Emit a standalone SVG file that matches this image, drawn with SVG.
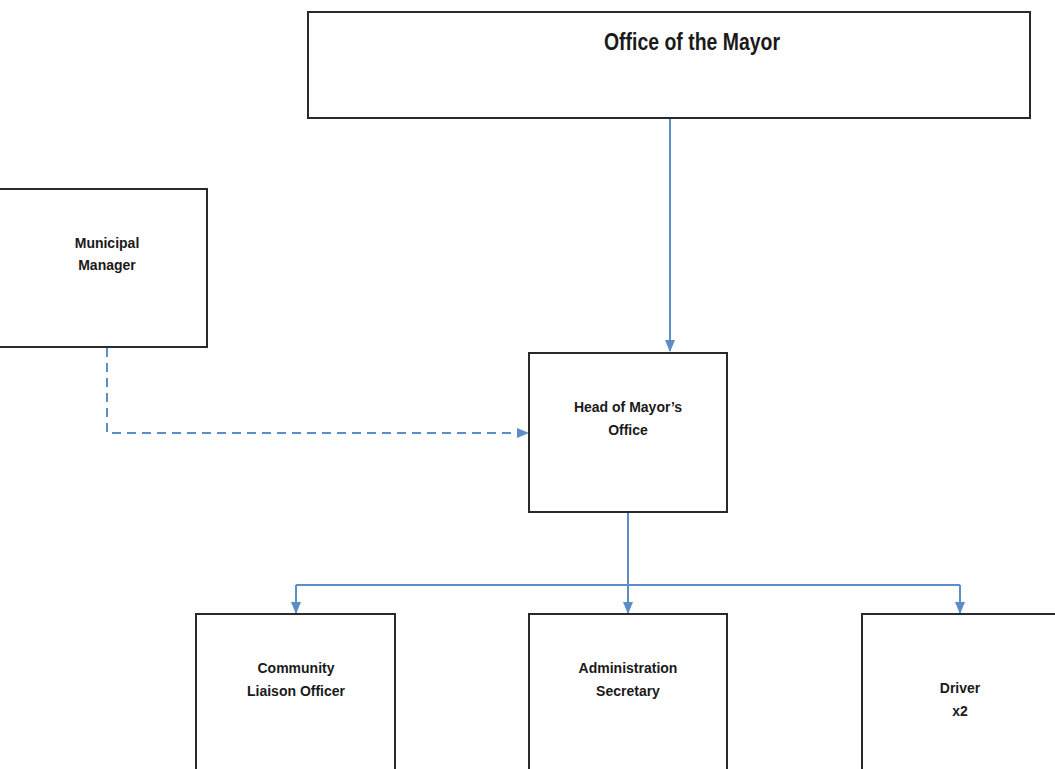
<svg xmlns="http://www.w3.org/2000/svg" width="1055" height="769" viewBox="0 0 1055 769">
<defs>
<style>
.box{fill:#fff;stroke:#2a2a2a;stroke-width:2}
.t{font-family:"Liberation Sans Narrow","Liberation Sans",Arial,sans-serif;font-weight:bold;font-size:14px;fill:#1a1a1a;text-anchor:middle}
.big{font-size:23px}
.c{fill:none;stroke:#5b8ec6;stroke-width:2}
.d{stroke-dasharray:9 6}
</style>
<marker id="ah" markerWidth="12" markerHeight="12" refX="11" refY="6" orient="auto" markerUnits="userSpaceOnUse">
<path d="M0,1 L12,6 L0,11 Z" fill="#5b8ec6"/>
</marker>
</defs>
<rect width="1055" height="769" fill="#fff"/>
<g id="connectors">
<path class="c" d="M670,118 V351" marker-end="url(#ah)"/>
<path class="c d" d="M107,348 V433 H528" marker-end="url(#ah)"/>
<path class="c" d="M628,512 V613" marker-end="url(#ah)"/>
<path class="c" d="M296,585 H960"/>
<path class="c" d="M296,585 V613" marker-end="url(#ah)"/>
<path class="c" d="M960,585 V613" marker-end="url(#ah)"/>
</g>
<g id="office-mayor">
<rect class="box" x="308" y="12" width="722" height="106"/>
<text class="t big" x="692" y="50" textLength="176" lengthAdjust="spacingAndGlyphs">Office of the Mayor</text>
</g>
<g id="municipal-manager">
<rect class="box" x="-5" y="189" width="212" height="158"/>
<text class="t" x="107" y="248">Municipal</text>
<text class="t" x="107" y="270">Manager</text>
</g>
<g id="head-office">
<rect class="box" x="529" y="353" width="198" height="159"/>
<text class="t" x="628" y="412">Head of Mayor’s</text>
<text class="t" x="628" y="435">Office</text>
</g>
<g id="community-liaison">
<rect class="box" x="196" y="614" width="199" height="165"/>
<text class="t" x="296" y="673">Community</text>
<text class="t" x="296" y="696">Liaison Officer</text>
</g>
<g id="admin-secretary">
<rect class="box" x="529" y="614" width="198" height="165"/>
<text class="t" x="628" y="673">Administration</text>
<text class="t" x="628" y="696">Secretary</text>
</g>
<g id="driver">
<rect class="box" x="862" y="614" width="205" height="165"/>
<text class="t" x="960" y="693">Driver</text>
<text class="t" x="960" y="716">x2</text>
</g>
</svg>
